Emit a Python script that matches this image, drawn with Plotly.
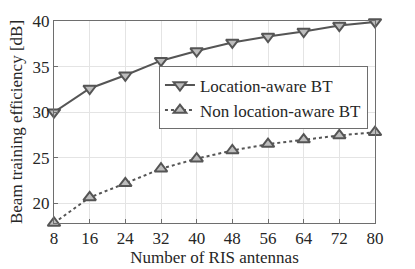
import plotly.graph_objects as go

antennas = [8, 16, 24, 32, 40, 48, 56, 64, 72, 80]
loc_aware = [30.0, 32.6, 34.05, 35.65, 36.7, 37.65, 38.3, 38.85, 39.5, 39.9]
non_loc_aware = [17.85, 20.65, 22.2, 23.8, 24.9, 25.8, 26.5, 27.0, 27.45, 27.8]
x_ticks = [8, 16, 24, 32, 40, 48, 56, 64, 72, 80]
y_ticks = [20, 25, 30, 35, 40]

FONT = "Liberation Serif"
C = "#555555"

fig = go.Figure()
fig.add_trace(go.Scatter(
    x=antennas, y=loc_aware, name="Location-aware BT",
    mode="lines+markers",
    line=dict(color=C, width=2),
    marker=dict(symbol="triangle-down", size=11, color="#bdbdbd",
                line=dict(color=C, width=2)),
    cliponaxis=False,
))
fig.add_trace(go.Scatter(
    x=antennas, y=non_loc_aware, name="Non location-aware BT",
    mode="lines+markers",
    line=dict(color=C, width=2, dash="dot"),
    marker=dict(symbol="triangle-up", size=11, color="#bdbdbd",
                line=dict(color=C, width=2)),
    cliponaxis=False,
))

axis_common = dict(
    showline=True, linecolor="#6e6e6e", linewidth=1, mirror=True,
    showgrid=True, gridcolor="#e4e4e4", gridwidth=1,
    ticks="inside", ticklen=4, tickcolor="#6e6e6e",
    zeroline=False, automargin=False,
    tickfont=dict(family=FONT, size=17, color="#262626"),
)

fig.update_layout(
    width=415, height=269,
    margin=dict(l=54, r=40, t=21, b=46),
    paper_bgcolor="white", plot_bgcolor="white",
    font=dict(family=FONT, color="#262626"),
    xaxis=dict(axis_common, range=[8, 80], tickvals=x_ticks,
               title=dict(text="Number of RIS antennas", font=dict(family=FONT, size=17), standoff=1)),
    yaxis=dict(axis_common, range=[17.85, 40], tickvals=y_ticks,
               title=dict(text="Beam training efficiency [dB]", font=dict(family=FONT, size=17), standoff=5)),
    legend=dict(x=0.327, y=0.775, xanchor="left", yanchor="top",
                bgcolor="white", bordercolor="#6e6e6e", borderwidth=1,
                font=dict(family=FONT, size=17, color="#262626"),
                tracegroupgap=0, itemwidth=30),
    showlegend=True,
)

fig.write_html(
    "out.html",
    config={"displayModeBar": False},
    post_script="document.body.style.margin='0';document.body.style.padding='0';document.body.style.overflow='hidden';",
)
